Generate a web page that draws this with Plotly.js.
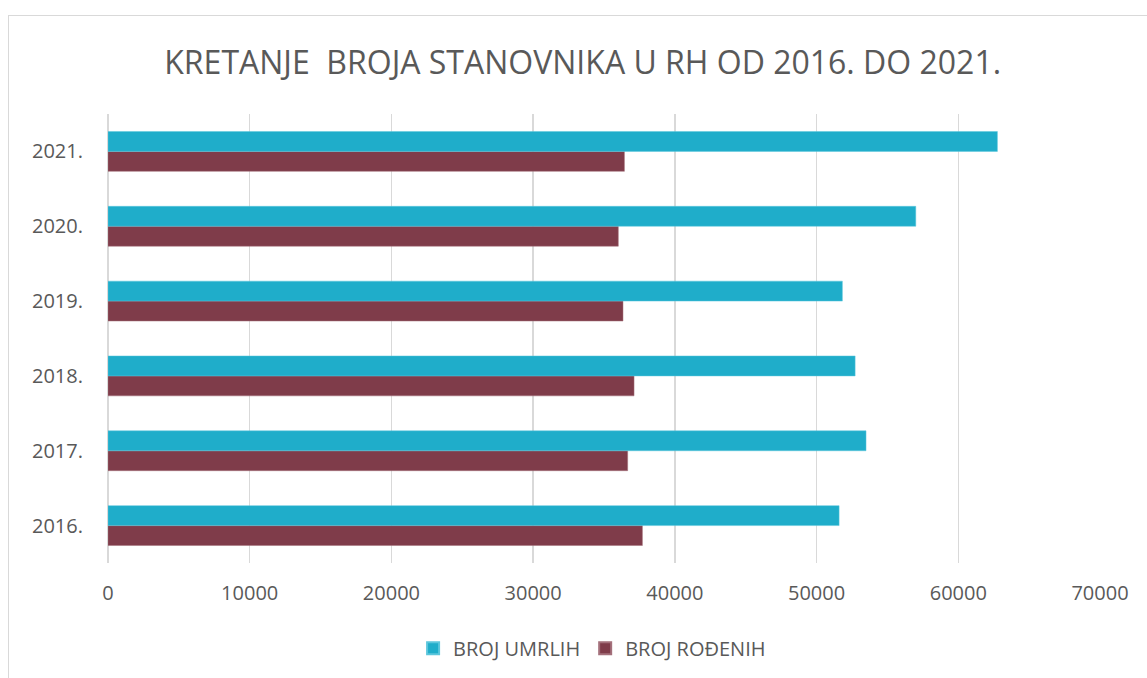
<!DOCTYPE html>
<html>
<head>
<meta charset="utf-8">
<script src="https://cdn.plot.ly/plotly-3.0.1.min.js"></script>
<style>
  html, body { margin: 0; padding: 0; background: #fff; }
  #wrap { position: relative; width: 1147px; height: 678px; overflow: hidden; }
  #chart { position: absolute; left: 0; top: 0; width: 1147px; height: 678px; }
  #frame { position: absolute; left: 8px; top: 15px; width: 1200px; height: 700px;
           border-left: 1px solid #d9d9d9; border-top: 1px solid #d9d9d9; pointer-events: none; }
</style>
</head>
<body>
<div id="wrap">
  <div id="chart"></div>
  <div id="frame"></div>
</div>
<script>
const years = ["2016.", "2017.", "2018.", "2019.", "2020.", "2021."];
const brojUmrlih = [51590, 53490, 52720, 51820, 57000, 62760];
const brojRodenih = [37710, 36670, 37120, 36340, 36010, 36440];
const xTicks = [0, 10000, 20000, 30000, 40000, 50000, 60000, 70000];

const fontFam = '"Open Sans", "Noto Sans", sans-serif';

const traces = [
  {
    type: 'bar', orientation: 'h', name: 'BROJ ROĐENIH',
    y: years, x: brojRodenih,
    marker: { color: '#7f3c4a', line: { color: '#a4707b', width: 0.5 } },
    hoverinfo: 'x+name'
  },
  {
    type: 'bar', orientation: 'h', name: 'BROJ UMRLIH',
    y: years, x: brojUmrlih,
    marker: { color: '#1fadca', line: { color: '#5cc6dc', width: 0.5 } },
    hoverinfo: 'x+name'
  }
];

const layout = {
  width: 1147, height: 678,
  paper_bgcolor: 'rgba(0,0,0,0)', plot_bgcolor: 'rgba(0,0,0,0)',
  margin: { l: 108, r: 47, t: 114, b: 114 },
  font: { family: fontFam, color: '#595959', size: 20 },
  title: {
    text: 'KRETANJE  BROJA STANOVNIKA U RH OD 2016. DO 2021.',
    font: { family: fontFam, size: 32, color: '#595959' },
    x: 0.508, xanchor: 'center', y: 0.908, yanchor: 'middle'
  },
  barmode: 'group',
  bargap: 0.467,
  bargroupgap: 0,
  xaxis: {
    range: [0, 70000],
    tickmode: 'array', tickvals: xTicks, ticktext: xTicks.map(String),
    showgrid: true, gridcolor: '#d9d9d9', gridwidth: 1.5,
    zeroline: true, zerolinecolor: '#d9d9d9', zerolinewidth: 1.5,
    showline: false, ticks: '',
    tickfont: { family: fontFam, size: 20, color: '#595959' },
    ticklabelstandoff: 16, fixedrange: true
  },
  yaxis: {
    type: 'category', categoryorder: 'array', categoryarray: years,
    showgrid: false, zeroline: false, showline: false, ticks: '',
    tickfont: { family: fontFam, size: 20, color: '#595959' },
    ticklabelstandoff: 24, fixedrange: true
  },
  legend: {
    orientation: 'h', x: 0.488, xanchor: 'center', y: -0.187, yanchor: 'middle',
    traceorder: 'reversed',
    font: { family: fontFam, size: 20, color: '#595959' },
    itemwidth: 30, itemsizing: 'constant'
  },
  showlegend: true
};

Plotly.newPlot('chart', traces, layout, { displayModeBar: false, staticPlot: true });
</script>
</body>
</html>
